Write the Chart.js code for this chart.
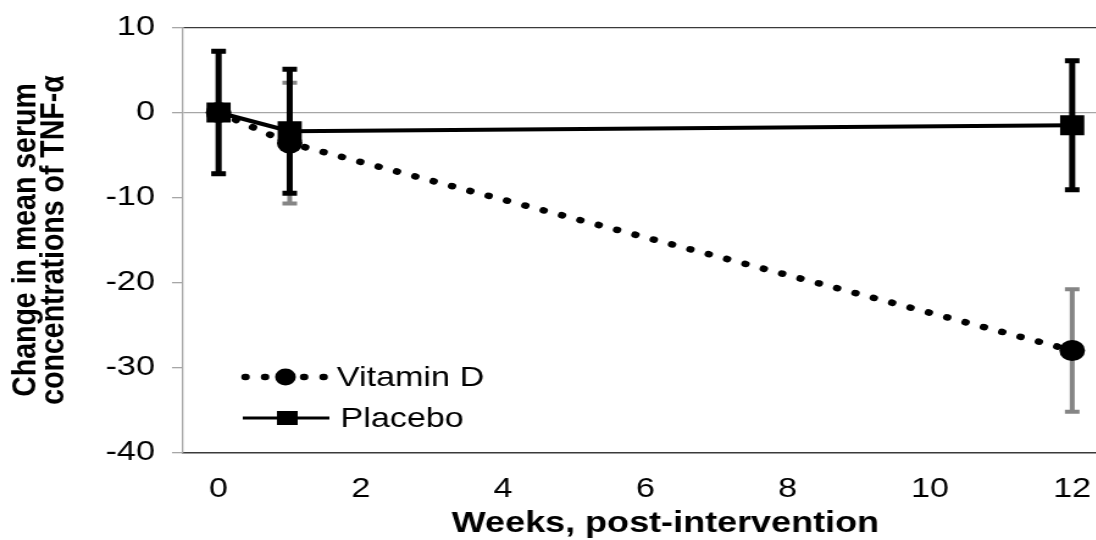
<!DOCTYPE html>
<html>
<head>
<meta charset="utf-8">
<script src="https://cdn.jsdelivr.net/npm/chart.js@4.4.0/dist/chart.umd.min.js"></script>
<style>
html, body { margin: 0; padding: 0; width: 1096px; height: 540px; overflow: hidden; background: #fff; }
/* the original figure is stretched sideways, so the chart is too */
#wrap { width: 908px; height: 540px; transform: scaleX(1.22); transform-origin: 0 0; }
#tnfChart { display: block; }
</style>
</head>
<body>
<div id="wrap"><canvas id="tnfChart" width="908" height="540"></canvas></div>
<script>
const weeks = [0, 1, 12];
const vitaminD = [0, -3.6, -28.0];
const vitaminDErr = [7.2, 7.1, 7.2];
const placebo = [0, -2.2, -1.5];
const placeboErr = [7.2, 7.3, 7.6];
const seriesNames = ['Vitamin D', 'Placebo'];
const xTicks = [0, 2, 4, 6, 8, 10, 12];
const yTicks = [-40, -30, -20, -10, 0, 10];

const FONT = '"Liberation Sans", Arial, sans-serif';
Chart.defaults.font.family = FONT;
Chart.defaults.color = '#000';

// keep the plot area exactly where the layout puts it
function noPadding(scale) {
    scale.paddingLeft = 0;
    scale.paddingRight = 0;
    scale.paddingTop = 0;
    scale.paddingBottom = 0;
}

// vertical error bars with caps, drawn under each dataset's own line
const errorBars = {
    id: 'errorBars',
    beforeDatasetDraw(chart, args) {
        const ds = chart.data.datasets[args.index];
        if (!ds.errors) return;
        const ctx = chart.ctx;
        const x = chart.scales.x, y = chart.scales.y;
        ctx.save();
        ctx.strokeStyle = ds.errorColor;
        ctx.lineWidth = ds.errorWidth;
        ds.data.forEach((pt, i) => {
            const px = x.getPixelForValue(pt.x);
            const top = y.getPixelForValue(pt.y + ds.errors[i]);
            const bot = y.getPixelForValue(pt.y - ds.errors[i]);
            ctx.beginPath();
            ctx.moveTo(px, top); ctx.lineTo(px, bot);
            ctx.moveTo(px - 6, top); ctx.lineTo(px + 6, top);
            ctx.moveTo(px - 6, bot); ctx.lineTo(px + 6, bot);
            ctx.stroke();
        });
        ctx.restore();
    }
};

// legend sits inside the plot, lower left
const insideLegend = {
    id: 'insideLegend',
    afterDraw(chart) {
        const ctx = chart.ctx;
        ctx.save();
        // Vitamin D: dotted line + circle
        ctx.strokeStyle = '#000';
        ctx.lineWidth = 6.5;
        ctx.lineCap = 'round';
        ctx.setLineDash([0.5, 15.5]);
        ctx.beginPath(); ctx.moveTo(201, 377); ctx.lineTo(266, 377); ctx.stroke();
        ctx.setLineDash([]);
        ctx.fillStyle = '#000';
        ctx.beginPath(); ctx.arc(234, 377, 8.5, 0, Math.PI * 2); ctx.fill();
        // Placebo: solid line + square
        ctx.lineWidth = 3;
        ctx.lineCap = 'butt';
        ctx.beginPath(); ctx.moveTo(199, 418); ctx.lineTo(270, 418); ctx.stroke();
        ctx.fillRect(227, 411, 17, 14);

        ctx.font = '28px ' + FONT;
        ctx.textBaseline = 'middle';
        ctx.fillText(seriesNames[0], 276, 378);
        ctx.fillText(seriesNames[1], 279, 419);
        ctx.restore();
    }
};

const ctx = document.getElementById('tnfChart').getContext('2d');

const tnfChart = new Chart(ctx, {
    type: 'line',
    data: {
        datasets: [
            {
                label: seriesNames[0],
                data: weeks.map((w, i) => ({ x: w, y: vitaminD[i] })),
                errors: vitaminDErr,
                errorColor: '#858585',
                errorWidth: 4,
                borderColor: '#000',
                borderWidth: 6.5,
                borderDash: [0.5, 15.3],
                borderCapStyle: 'round',
                pointStyle: 'circle',
                pointRadius: 10.5,
                pointBackgroundColor: '#000',
                pointBorderWidth: 0,
                tension: 0,
                order: 2
            },
            {
                label: seriesNames[1],
                data: weeks.map((w, i) => ({ x: w, y: placebo[i] })),
                errors: placeboErr,
                errorColor: '#000',
                errorWidth: 5,
                borderColor: '#000',
                borderWidth: 4,
                pointStyle: 'rect',
                pointRadius: 14,
                pointBackgroundColor: '#000',
                pointBorderWidth: 0,
                tension: 0,
                order: 1
            }
        ]
    },
    options: {
        responsive: false,
        devicePixelRatio: 1,
        animation: false,
        events: [],
        layout: { autoPadding: false, padding: { top: 27.5, right: 0, bottom: 0, left: 0 } },
        plugins: {
            legend: { display: false },
            tooltip: { enabled: false }
        },
        scales: {
            x: {
                type: 'linear',
                min: -0.5,
                max: 12.5,
                afterBuildTicks: (scale) => { scale.ticks = xTicks.map(v => ({ value: v })); },
                afterFit: (scale) => { scale.height = 87.5; noPadding(scale); },
                ticks: { font: { size: 28 }, padding: 20, maxRotation: 0 },
                grid: { display: false, drawTicks: false },
                border: { color: '#3a3a3a', width: 1.5 },
                title: {
                    display: true,
                    text: '    Weeks, post-intervention',
                    font: { size: 29.5, weight: 'bold', lineHeight: 1 },
                    padding: { top: 0, bottom: 1 }
                }
            },
            y: {
                min: -40,
                max: 10,
                afterBuildTicks: (scale) => { scale.ticks = yTicks.map(v => ({ value: v })); },
                afterFit: (scale) => { scale.width = 150; noPadding(scale); },
                ticks: { font: { size: 28 }, padding: 14 },
                grid: {
                    color: (c) => c.tick && c.tick.value === 0 ? '#a6a6a6'
                        : (c.tick && c.tick.value === 10 ? '#3a3a3a' : 'rgba(0,0,0,0)'),
                    tickColor: '#a6a6a6',
                    tickLength: 9,
                    lineWidth: 1.3
                },
                border: { color: '#a6a6a6', width: 1.3 },
                title: {
                    display: true,
                    text: ['Change in mean serum', 'concentrations of TNF-\u03b1'],
                    font: { size: 28.5, weight: 'bold', lineHeight: 0.8 },
                    padding: { top: 10, bottom: 0 }
                }
            }
        }
    },
    plugins: [errorBars, insideLegend]
});
</script>
</body>
</html>
